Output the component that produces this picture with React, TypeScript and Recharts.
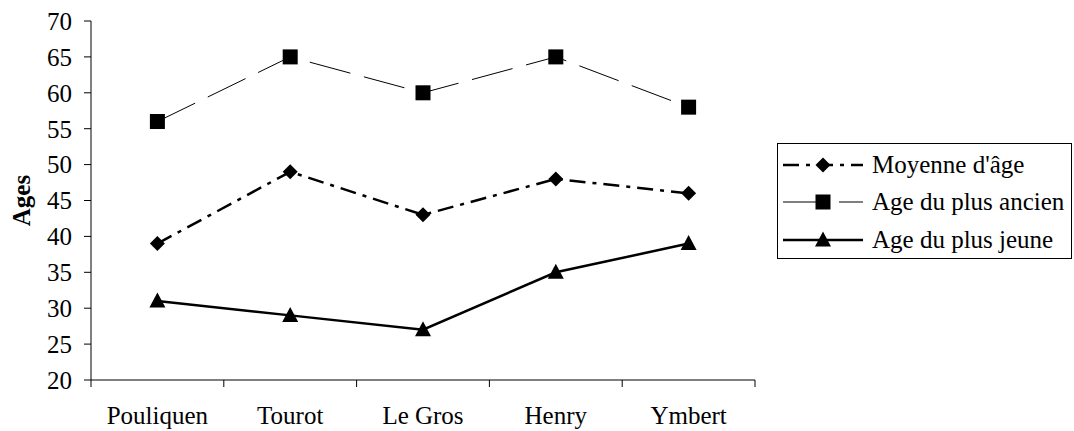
import { Line, LineChart, XAxis, YAxis } from "recharts";

const categories = ["Pouliquen", "Tourot", "Le Gros", "Henry", "Ymbert"];
const moyenne = [39, 49, 43, 48, 46];
const plusAncien = [56, 65, 60, 65, 58];
const plusJeune = [31, 29, 27, 35, 39];
const yTicks = [20, 25, 30, 35, 40, 45, 50, 55, 60, 65, 70];

const data = categories.map((name, i) => ({
  name,
  pos: i + 0.5,
  moyenne: moyenne[i],
  ancien: plusAncien[i],
  jeune: plusJeune[i],
}));

const FONT = "'Liberation Serif', 'Times New Roman', serif";
const WIDTH = 1074;
const HEIGHT = 431;
const MARGIN = { top: 21, right: 319, bottom: 0, left: 0 };
const Y_AXIS_W = 91;
const PLOT_W = WIDTH - MARGIN.left - MARGIN.right - Y_AXIS_W;
const HALF_BAND = PLOT_W / categories.length / 2;

type DotProps = { cx?: number; cy?: number; index?: number };

const Diamond = ({ cx = 0, cy = 0 }: DotProps) => (
  <polygon
    points={`${cx},${cy - 7.5} ${cx + 7.5},${cy} ${cx},${cy + 7.5} ${cx - 7.5},${cy}`}
    fill="#000"
  />
);

const Square = ({ cx = 0, cy = 0 }: DotProps) => (
  <rect x={cx - 7.5} y={cy - 7.5} width={15} height={15} fill="#000" />
);

const Triangle = ({ cx = 0, cy = 0 }: DotProps) => (
  <polygon
    points={`${cx},${cy - 8.5} ${cx + 8},${cy + 6.5} ${cx - 8},${cy + 6.5}`}
    fill="#000"
  />
);

const series = [
  {
    key: "moyenne",
    name: "Moyenne d'âge",
    width: 2.5,
    dash: "16 7 4 7",
    Marker: Diamond,
  },
  {
    key: "ancien",
    name: "Age du plus ancien",
    width: 1,
    dash: "42 14",
    Marker: Square,
  },
  {
    key: "jeune",
    name: "Age du plus jeune",
    width: 2.5,
    dash: undefined,
    Marker: Triangle,
  },
];

function XTick(props: any) {
  const { x, y, payload } = props;
  const idx = payload.value as number;
  const label = categories[idx];
  return (
    <g>
      <line x1={x} y1={y} x2={x} y2={y + 7} stroke="#000" strokeWidth={1} />
      {label && (
        <text
          x={x + HALF_BAND}
          y={y + 44}
          textAnchor="middle"
          fontSize={25}
          fontFamily={FONT}
          fill="#000"
        >
          {label}
        </text>
      )}
    </g>
  );
}

function AgesLabel(props: any) {
  const { viewBox } = props;
  const cx = viewBox.x + 21;
  const cy = viewBox.y + viewBox.height / 2;
  return (
    <text
      x={cx}
      y={cy}
      transform={`rotate(-90, ${cx}, ${cy})`}
      textAnchor="middle"
      dominantBaseline="central"
      fontSize={25}
      fontWeight="bold"
      fontFamily={FONT}
      fill="#000"
    >
      Ages
    </text>
  );
}

// legend drawn as a plain overlay so it doesn't eat into the plot area
function LegendBox() {
  return (
    <div
      style={{
        position: "absolute",
        left: 777,
        top: 143,
        border: "1px solid #000",
        width: 293,
        height: 112,
        background: "#fff",
        paddingTop: 2,
        fontFamily: FONT,
      }}
    >
      {series.map((s) => (
        <div
          key={s.key}
          style={{ display: "flex", alignItems: "center", height: 37.5 }}
        >
          <svg width={88} height={30} style={{ display: "block" }}>
            <line
              x1={5}
              y1={15}
              x2={85}
              y2={15}
              stroke="#000"
              strokeWidth={s.width}
              strokeDasharray={s.dash}
            />
            <s.Marker cx={45} cy={15} />
          </svg>
          <span
            style={{
              marginLeft: 6,
              fontSize: 25,
              fontFamily: FONT,
              color: "#000",
              whiteSpace: "nowrap",
            }}
          >
            {s.name}
          </span>
        </div>
      ))}
    </div>
  );
}

export default function App() {
  return (
    <div
      style={{
        position: "absolute",
        left: 0,
        top: 0,
        width: WIDTH,
        height: HEIGHT,
        background: "#fff",
      }}
    >
      <LineChart width={WIDTH} height={HEIGHT} data={data} margin={MARGIN}>
        <XAxis
          dataKey="pos"
          type="number"
          domain={[0, categories.length]}
          ticks={[0, 1, 2, 3, 4, 5]}
          interval={0}
          height={51}
          tickLine={false}
          tickSize={0}
          tickMargin={0}
          tick={<XTick />}
          axisLine={{ stroke: "#000", strokeWidth: 1 }}
        />
        <YAxis
          domain={[20, 70]}
          ticks={yTicks}
          interval={0}
          width={Y_AXIS_W}
          tickSize={7}
          tickMargin={12}
          axisLine={{ stroke: "#000", strokeWidth: 1 }}
          tickLine={{ stroke: "#000", strokeWidth: 1 }}
          tick={{ fontSize: 25, fontFamily: FONT, fill: "#000" }}
          label={<AgesLabel />}
        />
        {series.map((s) => (
          <Line
            key={s.key}
            type="linear"
            dataKey={s.key}
            name={s.name}
            stroke="#000"
            strokeWidth={s.width}
            strokeDasharray={s.dash}
            dot={(p: DotProps) => (
              <s.Marker key={`${s.key}-${p.index}`} cx={p.cx} cy={p.cy} />
            )}
            activeDot={false}
            isAnimationActive={false}
          />
        ))}
      </LineChart>
      <LegendBox />
    </div>
  );
}
